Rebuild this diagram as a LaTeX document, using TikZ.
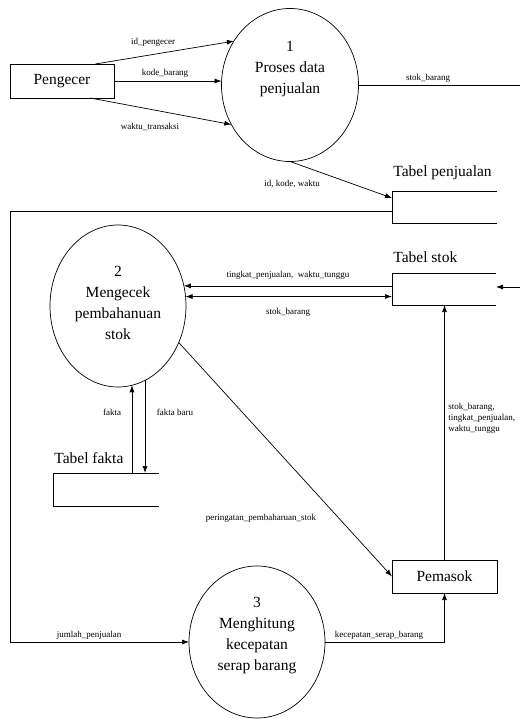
\documentclass[tikz,border=0pt]{standalone}
\usepackage{fontspec}
\setmainfont{Liberation Serif}
\usetikzlibrary{calc,arrows.meta,shapes.geometric}

\tikzset{
  bubble/.style={draw,ellipse,inner sep=0pt,outer sep=0pt},
  entity/.style={draw,rectangle,inner sep=0pt,outer sep=0pt,font=\fontsize{15.5}{19}\selectfont},
  store/.style={rectangle,inner sep=0pt,outer sep=0pt},
  btext/.style={align=center,font=\fontsize{15.5}{21}\selectfont},
  title/.style={anchor=base west,inner sep=0pt,font=\fontsize{15.5}{19}\selectfont},
  lbl/.style={inner sep=0pt,font=\fontsize{9}{11}\selectfont},
}

\begin{document}
\begin{tikzpicture}[x=1pt,y=-1pt,line width=0.7pt,>={Latex[length=7pt,width=5pt]}]
  \useasboundingbox (0,0) rectangle (520,719);
  % entitas luar
  \node[entity,minimum width=104pt,minimum height=34pt] (pen) at (62,81) {Pengecer};
  \node[entity,minimum width=105pt,minimum height=33pt] (pem) at (444.5,576.5) {Pemasok};
  % proses
  \node[bubble,minimum width=137pt,minimum height=153pt] (p1) at (290,85) {};
  \node[btext] (p1t) at (290,69) {1\\Proses data\\penjualan};
  \node[bubble,minimum width=136pt,minimum height=162pt] (p2) at (118,306) {};
  \node[btext] (p2t) at (118,303) {2\\Mengecek\\pembahanuan\\stok};
  \node[bubble,minimum width=136pt,minimum height=152pt] (p3) at (257,642) {};
  \node[btext] (p3t) at (257,636) {3\\Menghitung\\kecepatan\\serap barang};
  % data store
  \node[store,minimum width=105pt,minimum height=32pt] (penj) at (444.5,207) {};
  \draw (penj.north east) -- (penj.north west) -- (penj.south west) -- (penj.south east);
  \node[title] (penjt) at (393,177) {Tabel penjualan};
  \node[store,minimum width=104pt,minimum height=32pt] (stok) at (444,289) {};
  \draw (stok.north east) -- (stok.north west) -- (stok.south west) -- (stok.south east);
  \node[title] (stokt) at (393,262) {Tabel stok};
  \node[store,minimum width=106pt,minimum height=33pt] (fak) at (106,489.5) {};
  \draw (fak.north east) -- (fak.north west) -- (fak.south west) -- (fak.south east);
  \node[title] (fakt) at (54,463) {Tabel fakta};
  % ujung bebas
  \coordinate (outA) at (520,85);
  \coordinate (outB) at (520,287);
  \coordinate (kiri) at (10,0);
  \coordinate (penjL) at ($(penj.west)+(0,4)$);

  % aliran data
  \draw[->] (pen.27) -- (p1.142);
  \draw[->] (pen.east) -- (pen.east -| p1.west);
  \draw[->] (pen.-31) -- (p1.214);
  \draw (p1.east) -- (outA);
  \draw[->] (outB) -- (stok.east |- outB);
  \draw[->] (p1.south) -- ($(penj.north west)+(0,7)$);
  \draw[->] (penjL) -- (penjL -| kiri) |- (p3.west);
  \draw[->] (stok.west |- p2.17) -- (p2.17);
  \draw[<->] (p2.8) -- (stok.west |- p2.8);
  \draw[->] (fak.north -| p2.-80) -- (p2.-80);
  \draw[->] (p2.-70) -- (fak.north -| p2.-70);
  \draw[->] (p2.-31) -- (pem.west);
  \draw[->] (pem.north) -- (pem.north |- stok.south);
  \draw[->] (p3.east) -| (pem.south);

  % label aliran
  \node[lbl] (l1) at (153,42) {id\_pengecer};
  \node[lbl] (l2) at (165,73) {kode\_barang};
  \node[lbl] (l3) at (150,127) {waktu\_transaksi};
  \node[lbl] (l4) at (428,78) {stok\_barang};
  \node[lbl] (l5) at (292,184) {id, kode, waktu};
  \node[lbl] (l6) at (288,275) {tingkat\_penjualan,\ \ waktu\_tunggu};
  \node[lbl] (l7) at (288,312) {stok\_barang};
  \node[lbl] (l8) at (112,412) {fakta};
  \node[lbl] (l9) at (175,412) {fakta baru};
  \node[lbl,align=left,anchor=north west] (l10) at (448,403) {stok\_barang,\\tingkat\_penjualan,\\waktu\_tunggu};
  \node[lbl] (l11) at (261,518) {peringatan\_pembaharuan\_stok};
  \node[lbl] (l12) at (89,635) {jumlah\_penjualan};
  \node[lbl] (l13) at (379,635) {kecepatan\_serap\_barang};
\end{tikzpicture}
\end{document}
